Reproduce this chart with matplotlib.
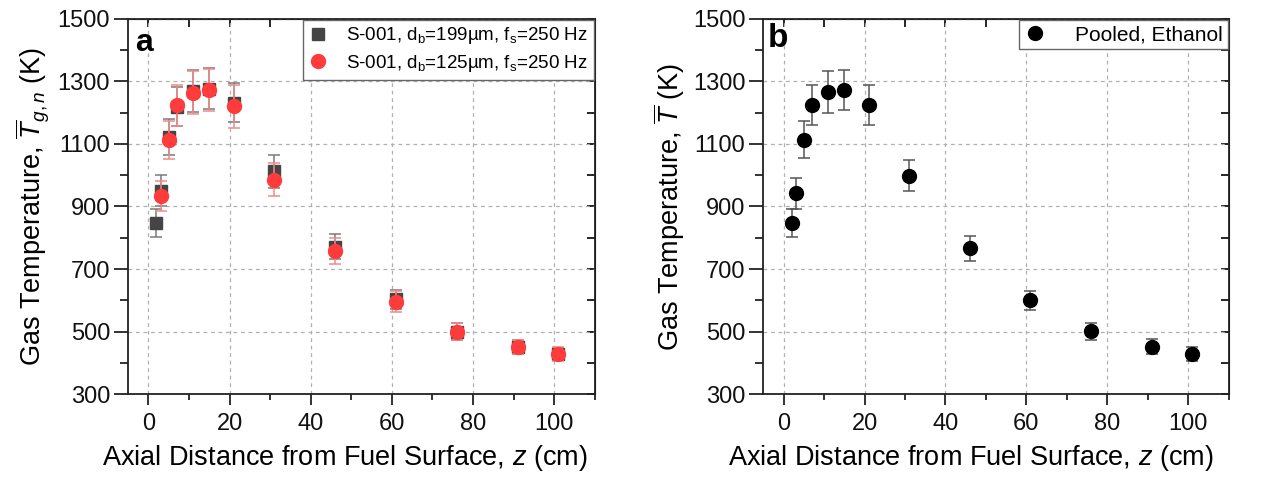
# Gas temperature vs axial distance, two panels
import numpy as np
import matplotlib
matplotlib.use("Agg")
import matplotlib.pyplot as plt
from matplotlib.ticker import MultipleLocator

plt.rcParams["font.family"] = ["Liberation Sans", "DejaVu Sans"]
plt.rcParams["mathtext.fontset"] = "custom"
plt.rcParams["mathtext.rm"] = "Liberation Sans"
plt.rcParams["mathtext.it"] = "Liberation Sans:italic"
plt.rcParams["mathtext.bf"] = "Liberation Sans:bold"

# Data
z_199 = [2, 3, 5, 7, 11, 15, 21, 31, 46, 61, 76, 91, 101]
T_199 = [846, 951, 1123, 1219, 1269, 1277, 1232, 1012, 771, 603, 500, 450, 428]
err_199 = [45, 50, 58, 62, 66, 66, 62, 52, 40, 30, 26, 22, 20]

z_125 = [3, 5, 7, 11, 15, 21, 31, 46, 61, 76, 91, 101]
T_125 = [934, 1112, 1223, 1264, 1272, 1221, 986, 758, 596, 500, 450, 428]
err_125 = [48, 60, 65, 69, 68, 69, 52, 42, 33, 27, 23, 22]

z_pool = [2, 3, 5, 7, 11, 15, 21, 31, 46, 61, 76, 91, 101]
T_pool = [846, 942, 1114, 1223, 1266, 1273, 1226, 999, 766, 600, 501, 452, 428]
err_pool = [45, 50, 58, 64, 66, 65, 64, 51, 39, 31, 27, 24, 22]

xlab = r"Axial Distance from Fuel Surface, $z$ (cm)"
yticks = [300, 500, 700, 900, 1100, 1300, 1500]


def style_axes(ax, label_x):
    ax.set_xlim(-5, 110)
    ax.set_ylim(300, 1500)
    ax.xaxis.set_major_locator(MultipleLocator(20))
    ax.xaxis.set_minor_locator(MultipleLocator(10))
    ax.yaxis.set_minor_locator(MultipleLocator(100))
    ax.set_yticks(yticks)
    for s in ax.spines.values():
        s.set_linewidth(1.3)
        s.set_color("#222222")
    ax.grid(True, which="major", ls=(0, (3, 3)), color="#b0b0b0", lw=0.9)
    ax.set_axisbelow(True)
    # inward ticks on top and right
    top = ax.secondary_xaxis("top")
    top.xaxis.set_major_locator(MultipleLocator(20))
    top.xaxis.set_minor_locator(MultipleLocator(10))
    top.tick_params(which="both", direction="in", length=6, width=1.2, labeltop=False)
    right = ax.secondary_yaxis("right")
    right.yaxis.set_minor_locator(MultipleLocator(100))
    right.set_yticks(yticks)
    right.tick_params(which="both", direction="in", length=6, width=1.2, labelright=False)
    ax.tick_params(which="both", direction="out", width=1.2,
                   labelsize=17, colors="#111111")
    ax.tick_params(axis="x", which="major", length=8, pad=5.5)
    ax.tick_params(axis="x", which="minor", length=4)
    ax.tick_params(axis="y", which="major", length=10, pad=3)
    ax.tick_params(axis="y", which="minor", length=6)
    ax.set_xlabel(xlab, fontsize=19.5)
    ax.xaxis.set_label_coords(label_x, -0.170)
    ax.xaxis.label.set_va("center")


fig = plt.figure(figsize=(12.68, 4.83), dpi=100)
ax1 = fig.add_axes([0.101, 0.184, 0.368, 0.777])
ax2 = fig.add_axes([0.602, 0.184, 0.367, 0.777])

# Panel a
eb1 = ax1.errorbar(z_199, T_199, yerr=err_199, fmt="s", ms=8.5, color="#454545",
                   ecolor="#7a7a7a", elinewidth=1.1, capsize=4.5, capthick=1.1, zorder=3)
eb2 = ax1.errorbar(z_125, T_125, yerr=err_125, fmt="o", ms=10, color="#ff3b3b",
                   ecolor="#f08a8a", elinewidth=1.1, capsize=4.5, capthick=1.1, zorder=4)
style_axes(ax1, 0.465)
ax1.set_ylabel(r"Gas Temperature, $\overline{T}_{g,n}$ (K)", fontsize=19.5)
leg = ax1.legend([eb1[0], eb2[0]],
                 [r"S-001, d$_\mathrm{b}$=199µm, f$_\mathrm{s}$=250 Hz",
                  r"S-001, d$_\mathrm{b}$=125µm, f$_\mathrm{s}$=250 Hz"],
                 loc="upper right", fontsize=13.5, frameon=True, fancybox=False,
                 framealpha=1, edgecolor="#666666", borderaxespad=0.05,
                 handlelength=1.0, handletextpad=1.0, borderpad=0.3, labelspacing=0.35)
leg.get_frame().set_linewidth(1.0)
ax1.text(0.015, 0.975, "a", transform=ax1.transAxes, fontsize=23,
         fontweight="bold", ha="left", va="top")

# Panel b
eb3 = ax2.errorbar(z_pool, T_pool, yerr=err_pool, fmt="o", ms=10, color="black",
                   ecolor="#555555", elinewidth=1.1, capsize=4.5, capthick=1.1, zorder=3)
style_axes(ax2, 0.447)
ax2.set_ylabel(r"Gas Temperature, $\overline{T}$ (K)", fontsize=19.5)
leg2 = ax2.legend([eb3[0]], ["Pooled, Ethanol"], loc="upper right", fontsize=15,
                  frameon=True, fancybox=False, framealpha=1, edgecolor="#666666",
                  borderaxespad=0.05, handlelength=1.0, handletextpad=1.4, borderpad=0.25)
leg2.get_frame().set_linewidth(1.0)
ax2.text(0.01, 0.99, "b", transform=ax2.transAxes, fontsize=24,
         fontweight="bold", ha="left", va="top")

fig.savefig("out.png", dpi=100)
